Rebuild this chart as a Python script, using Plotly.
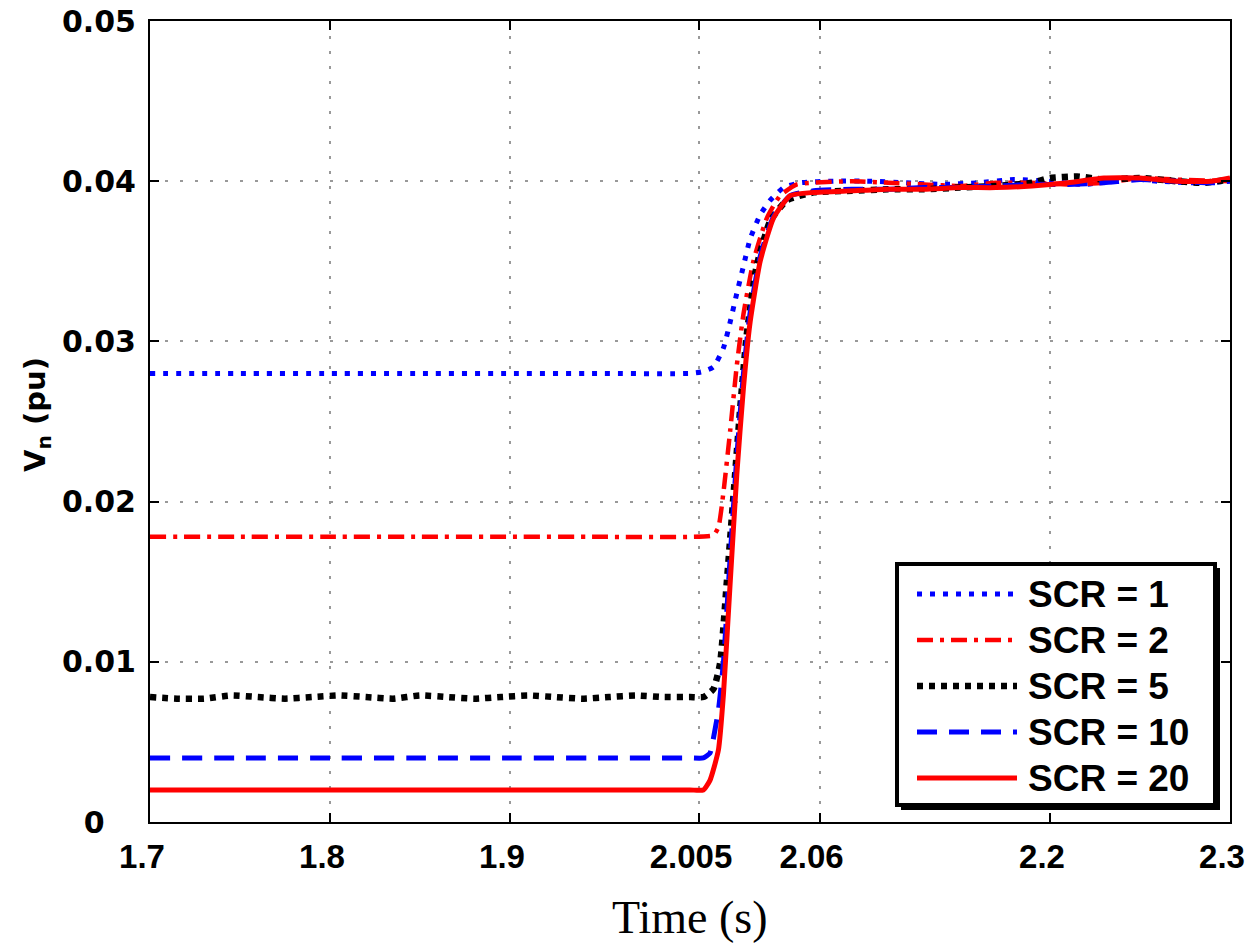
import plotly.graph_objects as go

# ---------------- data ----------------
series_names = ["SCR = 1", "SCR = 2", "SCR = 5", "SCR = 10", "SCR = 20"]

t_scr1 = [1.70, 1.75, 1.80, 1.85, 1.90, 1.95, 2.00, 2.0065, 2.013, 2.0186, 2.0223, 2.026,
          2.0297, 2.0334, 2.039, 2.0445, 2.052, 2.0612, 2.08, 2.10, 2.12, 2.14, 2.16, 2.18,
          2.20, 2.22, 2.24, 2.26, 2.28, 2.30]
v_scr1 = [0.0280, 0.0280, 0.0280, 0.0280, 0.0280, 0.0280, 0.0280, 0.0281, 0.0284, 0.0296,
          0.0312, 0.0330, 0.0347, 0.0364, 0.0379, 0.0388, 0.0396, 0.0399, 0.0400, 0.0400,
          0.0399, 0.0398, 0.0399, 0.0401, 0.0400, 0.0398, 0.0402, 0.0400, 0.0399, 0.0400]

t_scr2 = [1.70, 1.75, 1.80, 1.85, 1.90, 1.95, 2.00, 2.013, 2.0158, 2.0186, 2.0223, 2.026,
          2.0297, 2.0352, 2.0427, 2.0501, 2.0594, 2.068, 2.09, 2.11, 2.13, 2.15, 2.17, 2.19,
          2.21, 2.23, 2.25, 2.27, 2.30]
v_scr2 = [0.0178, 0.0178, 0.0178, 0.0178, 0.0178, 0.0178, 0.0178, 0.0179, 0.0184, 0.0206,
          0.0244, 0.0285, 0.0317, 0.0350, 0.0377, 0.0391, 0.0398, 0.0399, 0.0400, 0.0399,
          0.0398, 0.0397, 0.0399, 0.0399, 0.0398, 0.0399, 0.0402, 0.0401, 0.0400]

t_scr5 = [1.70, 1.715, 1.73, 1.745, 1.76, 1.775, 1.79, 1.805, 1.82, 1.835, 1.85, 1.865,
          1.88, 1.895, 1.91, 1.925, 1.94, 1.955, 1.97, 1.985, 2.00, 2.0074, 2.013, 2.0167,
          2.0204, 2.0241, 2.0278, 2.0315, 2.037, 2.0445, 2.0538, 2.0687, 2.09, 2.11, 2.13,
          2.15, 2.17, 2.19, 2.20, 2.215, 2.23, 2.25, 2.27, 2.285, 2.30]
v_scr5 = [0.0078, 0.0077, 0.0077, 0.0079, 0.0078, 0.0077, 0.0078, 0.0079, 0.0078, 0.0077,
          0.0079, 0.0078, 0.0077, 0.0078, 0.0079, 0.0078, 0.0077, 0.0078, 0.0079, 0.0078,
          0.0078, 0.0078, 0.0083, 0.0099, 0.0149, 0.0203, 0.0257, 0.0304, 0.0347, 0.0375,
          0.0388, 0.0393, 0.0394, 0.0395, 0.0395, 0.0396, 0.0397, 0.0399, 0.0402, 0.0403,
          0.0401, 0.0402, 0.0400, 0.0399, 0.0401]

t_scr10 = [1.70, 1.75, 1.80, 1.85, 1.90, 1.95, 2.00, 2.0074, 2.0111, 2.0121, 2.0158, 2.0186,
           2.0223, 2.026, 2.0297, 2.0334, 2.039, 2.0464, 2.0557, 2.0687, 2.09, 2.11, 2.13,
           2.15, 2.17, 2.19, 2.21, 2.23, 2.25, 2.27, 2.29, 2.30]
v_scr10 = [0.0040, 0.0040, 0.0040, 0.0040, 0.0040, 0.0040, 0.0040, 0.0040, 0.0043, 0.0047,
           0.0070, 0.0100, 0.0165, 0.0228, 0.0280, 0.0318, 0.0353, 0.0378, 0.0391, 0.0394,
           0.0395, 0.0395, 0.0396, 0.0396, 0.0397, 0.0398, 0.0398, 0.0399, 0.0401, 0.0400,
           0.0399, 0.0400]

t_scr20 = [1.70, 1.75, 1.80, 1.85, 1.90, 1.95, 2.00, 2.0074, 2.0111, 2.0158, 2.0186, 2.0223,
           2.026, 2.0297, 2.0334, 2.039, 2.0464, 2.0557, 2.0687, 2.09, 2.11, 2.13, 2.15,
           2.17, 2.19, 2.21, 2.23, 2.25, 2.27, 2.29, 2.30]
v_scr20 = [0.0020, 0.0020, 0.0020, 0.0020, 0.0020, 0.0020, 0.0020, 0.0020, 0.0026, 0.0045,
           0.0080, 0.0149, 0.0217, 0.0271, 0.0312, 0.0350, 0.0377, 0.0391, 0.0393, 0.0394,
           0.0395, 0.0395, 0.0396, 0.0396, 0.0397, 0.0399, 0.0402, 0.0402, 0.0400, 0.0400,
           0.0402]

x_tick_vals = [1.7, 1.8, 1.9, 2.005, 2.072, 2.2, 2.3]
x_tick_text = ["1.7", "1.8", "1.9", "2.005", "2.06", "2.2", "2.3"]
y_tick_vals = [0, 0.01, 0.02, 0.03, 0.04, 0.05]
y_tick_text = ["0&nbsp;&nbsp;&nbsp;", "0.01", "0.02", "0.03", "0.04", "0.05"]

# ---------------- styles ----------------
W, H = 1251, 949
L, R, T, B = 150, 1230, 21, 822   # plot area in pixels

styles = [
    dict(color="#0000ff", width=5, dash="5px,8px"),
    dict(color="#ff0000", width=4.5, dash="16px,7px,4px,7px"),
    dict(color="#000000", width=6.5, dash="6px,6px"),
    dict(color="#0000ff", width=5, dash="20px,12px"),
    dict(color="#ff0000", width=5, dash="solid"),
]
xs = [t_scr1, t_scr2, t_scr5, t_scr10, t_scr20]
ys = [v_scr1, v_scr2, v_scr5, v_scr10, v_scr20]

fig = go.Figure()
for name, x, y, st in zip(series_names, xs, ys, styles):
    fig.add_trace(go.Scatter(x=x, y=y, mode="lines", name=name, showlegend=False,
                             line=dict(color=st["color"], width=st["width"], dash=st["dash"],
                                       shape="spline", smoothing=0.5)))


def px_x(p):
    return (p - L) / (R - L)


def px_y(p):
    return (B - p) / (B - T)


# ---------------- legend (drawn) ----------------
shapes = []
annotations = []
shapes.append(dict(type="rect", xref="paper", yref="paper",
                   x0=px_x(901), x1=px_x(1220), y0=px_y(810), y1=px_y(568),
                   fillcolor="black", line=dict(width=0), layer="above"))
shapes.append(dict(type="rect", xref="paper", yref="paper",
                   x0=px_x(897), x1=px_x(1215), y0=px_y(805), y1=px_y(564),
                   fillcolor="white", line=dict(color="black", width=4), layer="above"))
row_y = [594, 640, 686, 732, 778]
for name, st, ry in zip(series_names, styles, row_y):
    shapes.append(dict(type="line", xref="paper", yref="paper",
                       x0=px_x(917), x1=px_x(1017), y0=px_y(ry), y1=px_y(ry),
                       line=dict(color=st["color"], width=st["width"], dash=st["dash"]),
                       layer="above"))
    annotations.append(dict(text="<b>%s</b>" % name, xref="paper", yref="paper",
                            x=px_x(1026), y=px_y(ry),
                            xanchor="left", yanchor="middle", showarrow=False,
                            font=dict(family="Liberation Sans, Arial", size=37, color="black")))

# axis titles
annotations.append(dict(text="<b>V<sub>n</sub> (pu)</b>", xref="paper", yref="paper",
                        x=px_x(37), y=px_y(415), textangle=-90, showarrow=False,
                        xanchor="center", yanchor="middle",
                        font=dict(family="DejaVu Sans", size=29, color="black")))
annotations.append(dict(text="Time (s)", xref="paper", yref="paper",
                        x=px_x(690), y=px_y(917), showarrow=False,
                        xanchor="center", yanchor="middle",
                        font=dict(family="Liberation Serif, Times New Roman", size=46,
                                  color="black")))

axis_common = dict(showline=True, linecolor="black", linewidth=2, mirror="ticks",
                   ticks="inside", ticklen=9, tickwidth=2, tickcolor="black",
                   showgrid=True, gridcolor="#999999", gridwidth=1.5, griddash="3px,12px",
                   zeroline=False, automargin=False, ticklabeloverflow="allow")

fig.update_layout(
    width=W, height=H,
    margin=dict(l=L, r=W - R, t=T, b=H - B, pad=0, autoexpand=False),
    paper_bgcolor="white", plot_bgcolor="white",
    showlegend=False,
    shapes=shapes, annotations=annotations,
    xaxis=dict(range=[1.7, 2.3], tickvals=x_tick_vals,
               ticktext=["<b>%s</b>" % t for t in x_tick_text],
               tickfont=dict(family="Liberation Sans, Arial", size=33, color="black"),
               ticklabelstandoff=4, ticklabelshift=-8, **axis_common),
    yaxis=dict(range=[0, 0.05], tickvals=y_tick_vals,
               ticktext=["<b>%s</b>" % t for t in y_tick_text],
               tickfont=dict(family="DejaVu Sans", size=30, color="black"),
               ticklabelstandoff=6, **axis_common),
)

fig.write_html("out.html", config={"displayModeBar": False},
               post_script="document.body.style.margin='0';")
